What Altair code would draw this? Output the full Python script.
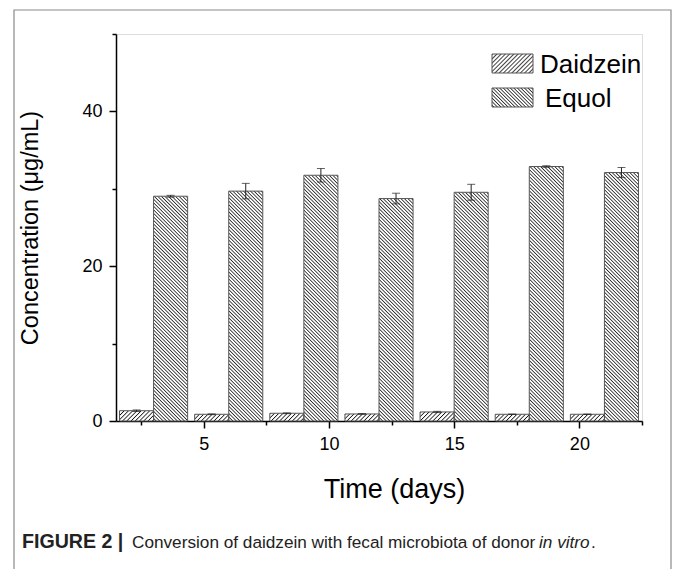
import base64
import altair as alt
import pandas as pd

# ---- data ----
days = [3, 6, 9, 12, 15, 18, 21]
daidzein = [1.33, 0.87, 1.00, 0.91, 1.17, 0.87, 0.87]
daidzein_err = [0.10, 0.05, 0.05, 0.05, 0.08, 0.03, 0.03]
equol = [29.04, 29.70, 31.75, 28.74, 29.55, 32.88, 32.10]
equol_err = [0.12, 1.00, 0.87, 0.69, 1.03, 0.10, 0.65]
series = ["Daidzein", "Equol"]
x_ticks = [2.5, 5, 7.5, 10, 12.5, 15, 17.5, 20, 22.5]
y_ticks = [0, 10, 20, 30, 40, 50]
caption_parts = ["FIGURE 2 |", "Conversion of daidzein with fecal microbiota of donor", "in vitro", "."]

FONT = "Liberation Sans"
BAR_W = 1.36


def hatch_uri(angle, spacing, lw):
    svg = (
        '<svg xmlns="http://www.w3.org/2000/svg" width="100%" height="100%">'
        f'<defs><pattern id="h" width="{spacing}" height="{spacing}" patternUnits="userSpaceOnUse" '
        f'patternTransform="rotate({angle})">'
        f'<rect x="0" y="0" width="{lw}" height="{spacing}" fill="#111"/></pattern></defs>'
        '<rect width="100%" height="100%" fill="white"/>'
        '<rect width="100%" height="100%" fill="url(#h)"/></svg>'
    )
    return "data:image/svg+xml;base64," + base64.b64encode(svg.encode()).decode()


uri = {"Daidzein": hatch_uri(45, 3.0, 0.8), "Equol": hatch_uri(-45, 2.5, 0.75)}

df = pd.DataFrame({
    "day": days * 2,
    "series": [series[0]] * len(days) + [series[1]] * len(days),
    "value": daidzein + equol,
    "err": daidzein_err + equol_err,
})

xscale = alt.Scale(domain=[1.5, 22.5], nice=False, zero=False)
yscale = alt.Scale(domain=[0, 50], nice=False)

xaxis = alt.Axis(
    values=x_ticks, grid=False, title="Time (days)",
    labelExpr="datum.value % 5 === 0 ? datum.label : ''",
    tickSize={"condition": {"test": "datum.value % 5 === 0", "value": 7}, "value": 4},
    domainColor="black", domainWidth=1.5, tickColor="black", tickWidth=1.5,
    labelFont=FONT, labelFontSize=18, labelColor="black", labelPadding=7,
    titleFont=FONT, titleFontSize=27, titleFontWeight="normal", titleColor="black",
    titleX=278, titleY=76, titleAlign="center", titleBaseline="alphabetic",
)
yaxis = alt.Axis(
    values=y_ticks, grid=False, title="Concentration (μg/mL)",
    labelExpr="datum.value % 20 === 0 ? datum.label : ''",
    tickSize={"condition": {"test": "datum.value % 20 === 0", "value": 7}, "value": 4},
    domainColor="black", domainWidth=1.5, tickColor="black", tickWidth=1.5,
    labelFont=FONT, labelFontSize=18, labelColor="black", labelPadding=7,
    titleFont=FONT, titleFontSize=23.5, titleFontWeight="normal", titleColor="black", titlePadding=39,
)

base = (
    alt.Chart(df)
    .transform_calculate(x0=f"datum.series == 'Daidzein' ? datum.day - {BAR_W} : datum.day")
    .transform_calculate(x1=f"datum.x0 + {BAR_W}")
    .transform_calculate(xc="(datum.x0 + datum.x1) / 2")
    .transform_calculate(lo="datum.value - datum.err", hi="datum.value + datum.err")
)

layers = []
for s in series:
    layers.append(
        base.transform_filter(f"datum.series == '{s}'")
        .mark_image(aspect=False)
        .encode(
            x=alt.X("x0:Q", scale=xscale, axis=xaxis),
            x2="x1:Q",
            y=alt.Y("value:Q", scale=yscale, axis=yaxis),
            y2=alt.datum(0),
            url=alt.value(uri[s]),
        )
    )

outline = base.mark_rect(fillOpacity=0, stroke="#555", strokeWidth=1).encode(
    x="x0:Q", x2="x1:Q", y="value:Q", y2=alt.datum(0)
)
err_rule = base.mark_rule(color="#222", strokeWidth=1).encode(x="xc:Q", y="lo:Q", y2="hi:Q")
cap_hi = base.mark_tick(orient="horizontal", size=8, thickness=1, color="#222").encode(x="xc:Q", y="hi:Q")
cap_lo = base.mark_tick(orient="horizontal", size=8, thickness=1, color="#222").encode(x="xc:Q", y="lo:Q")

# legend (drawn by hand, pixel positions relative to plot origin)
leg_rows = []
for i, s in enumerate(series):
    one = alt.Chart(pd.DataFrame({"series": [s]}))
    yt = 20 + i * 34
    leg_rows.append(one.mark_image(aspect=False).encode(
        x=alt.value(376), x2=alt.value(417), y=alt.value(yt), y2=alt.value(yt + 19), url=alt.value(uri[s])))
    leg_rows.append(one.mark_rect(fillOpacity=0, stroke="#555", strokeWidth=1).encode(
        x=alt.value(376), x2=alt.value(417), y=alt.value(yt), y2=alt.value(yt + 19)))
    leg_rows.append(one.mark_text(align="left", baseline="alphabetic", font=FONT, fontSize=26, color="black").encode(
        x=alt.value(424 + 5 * i), y=alt.value(yt + 19), text="series:N"))

# caption
cap_x = [-94, 16, 423, 475]
cap_style = [("bold", "normal", 19.6), ("normal", "normal", 17.2), ("normal", "italic", 17.2), ("normal", "normal", 17.2)]
caption = []
for txt, xx, (fw, fs, sz) in zip(caption_parts, cap_x, cap_style):
    caption.append(
        alt.Chart(pd.DataFrame({"t": [txt]}))
        .mark_text(align="left", baseline="alphabetic", font=FONT,
                   fontSize=sz, fontWeight=fw, fontStyle=fs, color="#222")
        .encode(x=alt.value(xx), y=alt.value(514), text="t:N")
    )

frame = alt.Chart(pd.DataFrame({"f": [0]})).mark_rect(fillOpacity=0, stroke="#8a8a8a", strokeWidth=1.2).encode(
    x=alt.value(-102), x2=alt.value(555), y=alt.value(-24), y2=alt.value(545)
)

chart = (
    alt.layer(*layers, outline, err_rule, cap_hi, cap_lo, *leg_rows, *caption, frame)
    .properties(width=526, height=387,
                padding={"left": 116, "top": 34, "right": 31, "bottom": 148},
                autosize=alt.AutoSizeParams(type="none"))
    .configure_view(stroke=None)
    .configure(background="white")
)

chart.save("out.html", embed_options={"renderer": "svg", "actions": False})
